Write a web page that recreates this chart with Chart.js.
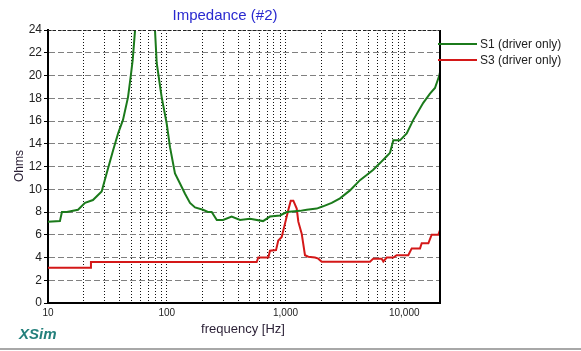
<!DOCTYPE html>
<html>
<head>
<meta charset="utf-8">
<script src="https://cdn.jsdelivr.net/npm/chart.js@4"></script>
<style>
  body { margin: 0; background: #fff; }
  canvas { display: block; }
</style>
</head>
<body>
<canvas id="myChart" width="581" height="351"></canvas>
<script>
// =========================================================
// Data
const s1Label = 'S1 (driver only)';
const s1Freq = [10, 12.6, 13.1, 14.4, 17.9, 20.5, 23.9, 28.3, 31.2, 35.3, 38.9, 42.8, 47.2, 49.7, 51.7, 54.0, 57.3, 65.6, 75.0, 79.6,
  82.3, 90.6, 99.8, 106.5, 117.3, 129.3, 142.5, 157, 173, 202, 222, 239, 264, 298, 352, 414, 502, 647, 740, 899,
  1024, 1324, 1510, 1833, 2070, 2450, 2877, 3491, 4238, 4827, 5455, 6250, 7117, 7586, 8091, 9205, 10490, 11920, 14460, 16470,
  18140, 19730, 20000];
const s1Ohms = [7.15, 7.2, 8.0, 8.0, 8.2, 8.8, 9.05, 9.8, 11.4, 13.4, 14.9, 16.1, 18.1, 19.9, 21.4, 23.9, 28, 34, 27, 24,
  21.1, 18.1, 15.8, 13.7, 11.4, 10.5, 9.6, 8.8, 8.4, 8.2, 8.0, 8.0, 7.3, 7.3, 7.6, 7.3, 7.4, 7.2, 7.6, 7.7,
  8.0, 8.1, 8.2, 8.3, 8.5, 8.8, 9.2, 9.9, 10.8, 11.25, 11.7, 12.3, 12.9, 13.2, 14.3, 14.3, 14.9, 16.1, 17.6, 18.4,
  18.9, 20.0, 20.3];

const s3Label = 'S3 (driver only)';
const s3Freq = [10, 22.6, 23.0, 572, 590, 717, 740, 832, 869, 929, 991, 1057, 1107, 1164, 1243, 1282, 1369, 1459, 1556, 1772,
  1889, 2018, 5148, 5485, 6456, 6667, 7117, 8091, 8630, 10810, 11560, 13580, 14030, 15960, 17020, 19360, 20000];
const s3Ohms = [3.1, 3.1, 3.6, 3.6, 4.0, 4.0, 4.6, 4.65, 5.5, 5.8, 7.0, 8.2, 9.0, 9.0, 8.3, 7.15, 6.1, 4.2, 4.07, 4.0,
  3.9, 3.63, 3.63, 3.9, 3.9, 3.65, 4.0, 4.0, 4.2, 4.2, 4.8, 4.8, 5.25, 5.25, 6.0, 6.0, 6.4];

// axis ticks
const xMin = 10;
const xMax = 20000;
const xGridValues = [10, 20, 30, 40, 50, 60, 70, 80, 90, 100, 200, 300, 400, 500, 600, 700, 800, 900,
  1000, 2000, 3000, 4000, 5000, 6000, 7000, 8000, 9000, 10000, 20000];
const xLabelValues = [10, 100, 1000, 10000];
const yMin = 0;
const yMax = 24;
const yStep = 2;

// Style
const s1Color = '#1b7a1b';
const s3Color = '#d41818';
const titleText = 'Impedance (#2)';
const xTitle = 'frequency [Hz]';
const yTitle = 'Ohms';
const fontFamily = 'Arial, "Liberation Sans", sans-serif';

function toPoints(xs, ys) {
  return xs.map((x, i) => ({ x: x, y: ys[i] }));
}

// =======================
// Extra drawing: frame, texts, legend
// =======================
const decorPlugin = {
  id: 'decor',
  afterDraw(chart) {
    const c = chart.ctx;
    const a = chart.chartArea;
    c.save();
    // right frame
    c.strokeStyle = '#000';
    c.lineWidth = 2;
    c.beginPath();
    c.moveTo(a.right, a.top);
    c.lineTo(a.right, a.bottom);
    c.stroke();
    // top frame (dotted dark)
    c.lineWidth = 1;
    c.setLineDash([3, 2]);
    c.strokeStyle = '#222';
    c.beginPath();
    c.moveTo(a.left, a.top + 0.5);
    c.lineTo(a.right, a.top + 0.5);
    c.stroke();
    c.setLineDash([]);

    // title
    c.fillStyle = '#2a2ad0';
    c.font = '15px ' + fontFamily;
    c.textAlign = 'center';
    c.textBaseline = 'middle';
    c.fillText(titleText, 225, 16);

    // x title
    c.fillStyle = '#2a1f35';
    c.font = '13px ' + fontFamily;
    c.fillText(xTitle, 243, 329);

    // y title
    c.save();
    c.font = '12px ' + fontFamily;
    c.translate(20, 166);
    c.rotate(-Math.PI / 2);
    c.fillText(yTitle, 0, 0);
    c.restore();

    // XSim mark
    c.fillStyle = '#24807c';
    c.font = 'italic bold 15px ' + fontFamily;
    c.textAlign = 'left';
    c.fillText('XSim', 19, 335);

    // bottom separator
    c.strokeStyle = '#a8a8a8';
    c.lineWidth = 2;
    c.beginPath();
    c.moveTo(0, 349);
    c.lineTo(581, 349);
    c.stroke();

    // legend
    c.font = '12px ' + fontFamily;
    chart.data.datasets.forEach((ds, i) => {
      const y = 44 + i * 16;
      c.strokeStyle = ds.borderColor;
      c.lineWidth = 2;
      c.beginPath();
      c.moveTo(438, y);
      c.lineTo(477, y);
      c.stroke();
      c.fillStyle = '#222';
      c.fillText(ds.label, 480, y + 1);
    });
    c.restore();
  }
};

// =======================
// Chart Configuration
// =======================
const ctx = document.getElementById('myChart').getContext('2d');

new Chart(ctx, {
  type: 'line',
  data: {
    datasets: [
      {
        label: s1Label,
        data: toPoints(s1Freq, s1Ohms),
        borderColor: s1Color,
        borderWidth: 2,
        pointRadius: 0,
        tension: 0
      },
      {
        label: s3Label,
        data: toPoints(s3Freq, s3Ohms),
        borderColor: s3Color,
        borderWidth: 2,
        pointRadius: 0,
        tension: 0
      }
    ]
  },
  options: {
    responsive: false,
    animation: false,
    layout: {
      padding: { left: 0, right: 141, top: 30, bottom: 0 }
    },
    plugins: {
      legend: { display: false },
      title: { display: false },
      tooltip: { enabled: false }
    },
    scales: {
      x: {
        type: 'logarithmic',
        min: xMin,
        max: xMax,
        afterBuildTicks: scale => {
          scale.ticks = xGridValues.map(v => ({ value: v }));
        },
        afterFit: scale => { scale.height = 48; },
        ticks: {
          autoSkip: false,
          maxRotation: 0,
          padding: 4,
          color: '#222',
          font: { family: fontFamily, size: 10 },
          callback: value => xLabelValues.includes(value) ? value.toLocaleString('en-US') : ''
        },
        grid: {
          color: '#111',
          lineWidth: 1,
          drawTicks: false
        },
        border: {
          display: true,
          color: '#000',
          width: 2,
          dash: [1, 2]
        }
      },
      y: {
        min: yMin,
        max: yMax,
        afterFit: scale => { scale.width = 48; },
        ticks: {
          stepSize: yStep,
          padding: 2,
          color: '#222',
          font: { family: fontFamily, size: 12 }
        },
        grid: {
          color: '#808080',
          lineWidth: 1,
          tickLength: 4,
          tickColor: '#000',
          tickBorderDash: []
        },
        border: {
          display: true,
          color: '#000',
          width: 2,
          dash: [6, 3]
        }
      }
    }
  },
  plugins: [decorPlugin]
});
</script>
</body>
</html>
